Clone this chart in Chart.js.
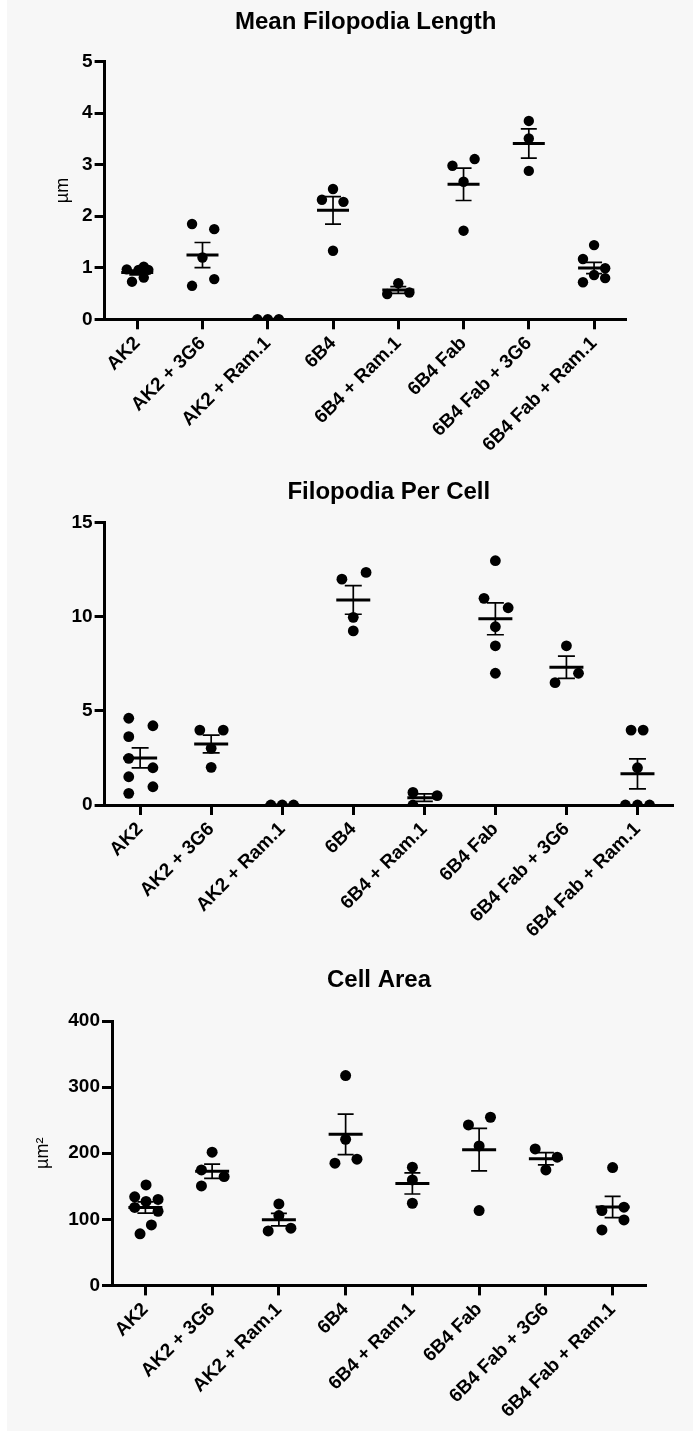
<!DOCTYPE html>
<html><head><meta charset="utf-8">
<script src="https://cdn.jsdelivr.net/npm/chart.js@4.4.1/dist/chart.umd.min.js"></script>
<style>
html,body{margin:0;padding:0;background:#f7f7f7;}
body{width:693px;height:1431px;position:relative;overflow:hidden;}
#strip{position:absolute;left:0;top:0;width:7px;height:1431px;background:#ffffff;}
.box{position:absolute;left:0;width:693px;}
canvas{display:block;}
</style></head><body>
<div id="strip"></div>
<div class="box" style="top:0px;height:460px"><canvas id="c1" width="693" height="460"></canvas></div>
<div class="box" style="top:460px;height:480px"><canvas id="c2" width="693" height="480"></canvas></div>
<div class="box" style="top:940px;height:491px"><canvas id="c3" width="693" height="491"></canvas></div>
<script>
const categories = ["AK2","AK2 + 3G6","AK2 + Ram.1","6B4","6B4 + Ram.1","6B4 Fab","6B4 Fab + 3G6","6B4 Fab + Ram.1"];

// Mean Filopodia Length (µm)
const lengthValues = [
  [0.97,0.73,0.96,1.02,0.81,0.96],
  [1.85,1.75,1.20,0.65,0.78],
  [0,0,0],
  [2.32,2.28,2.53,1.33],
  [0.49,0.70,0.52],
  [2.98,3.11,2.67,1.72],
  [3.85,3.51,2.88],
  [1.44,1.17,0.99,0.86,0.72,0.80]
];
const lengthJitter = [
  [-0.16,-0.08,0.02,0.10,0.10,0.17],
  [-0.16,0.18,0,-0.16,0.18],
  [-0.16,0,0.17],
  [-0.17,0.16,0,0],
  [-0.17,0,0.17],
  [-0.17,0.17,0,0],
  [0,0,0],
  [0,-0.17,0.17,0,-0.17,0.17]
];

// Filopodia Per Cell
const perCellValues = [
  [4.61,4.21,3.63,2.48,1.98,1.50,0.97,0.62],
  [3.98,3.98,3.01,2.00],
  [0,0,0],
  [12.00,12.36,9.97,9.25],
  [0.67,0.50,0],
  [12.98,10.98,10.48,9.47,8.46,7.00],
  [8.46,7.00,6.50],
  [3.98,3.98,1.98,0,0,0]
];
const perCellJitter = [
  [-0.16,0.18,-0.16,-0.16,0.18,-0.16,0.18,-0.16],
  [-0.16,0.17,0,0],
  [-0.16,0,0.16],
  [-0.16,0.18,0,0],
  [-0.16,0.18,-0.16],
  [0,-0.16,0.18,0,0,0],
  [0,0.17,-0.16],
  [-0.09,0.08,0,-0.17,0,0.17]
];

// Cell Area (µm²)
const areaValues = [
  [152,134,130,127,118,112,91.5,78],
  [201.5,174.7,164.6,150.5],
  [123.3,105.6,82.4,86.5],
  [317.4,221,184.9,190.9],
  [178.8,159.6,124.3],
  [242.8,254.4,211,113.2],
  [206.5,193.9,174.7],
  [178.2,113.2,118.3,99.1,84]
];
const areaJitter = [
  [0.01,-0.16,0.19,0.01,-0.16,0.19,0.09,-0.08],
  [0,-0.16,0.18,-0.16],
  [0,0,-0.16,0.18],
  [0,0,-0.16,0.17],
  [0,0,0],
  [-0.16,0.17,0,0],
  [-0.16,0.17,0],
  [0,-0.16,0.17,0.17,-0.16]
];

const FONT = "'Liberation Sans', Arial, Helvetica, sans-serif";
Chart.defaults.font.family = FONT;
Chart.defaults.color = '#000';

function stats(v){
  const n = v.length;
  const m = v.reduce((a,b)=>a+b,0)/n;
  const sd = n>1 ? Math.sqrt(v.reduce((a,b)=>a+(b-m)*(b-m),0)/(n-1)) : 0;
  return {m:m, sem: sd/Math.sqrt(n)};
}

function build(id, o){
  const pts = [];
  o.values.forEach((g,i)=>g.forEach((v,j)=>pts.push({x:i+o.jitter[i][j], y:v})));
  const st = o.values.map(stats);
  const datasets = [];
  datasets.push({data:pts, pointRadius:o.r, pointBackgroundColor:'#000', pointBorderColor:'#000', pointBorderWidth:0, showLine:false, order:0});
  datasets.push({data:st.map((s,i)=>({x:i,y:s.m})), pointStyle:'line', pointRadius:o.meanHalf, pointBorderColor:'#000', pointBorderWidth:3, showLine:false, order:1});
  const caps = [];
  st.forEach((s,i)=>{ if(s.sem>0){ caps.push({x:i,y:s.m-s.sem}); caps.push({x:i,y:s.m+s.sem}); } });
  datasets.push({data:caps, pointStyle:'line', pointRadius:o.capHalf, pointBorderColor:'#000', pointBorderWidth:1.7, showLine:false, order:2});
  st.forEach((s,i)=>{ if(s.sem>0) datasets.push({data:[{x:i,y:s.m-s.sem},{x:i,y:s.m+s.sem}], showLine:true, borderColor:'#000', borderWidth:1.7, pointRadius:0, order:3}); });

  const tickFont = {family:FONT, size:19, weight:'bold'};
  new Chart(document.getElementById(id), {
    type:'scatter',
    data:{datasets:datasets},
    options:{
      responsive:false, animation:false, events:[],
      layout:{padding:{left:0,right:o.padRight,top:0,bottom:0}},
      plugins:{
        legend:{display:false},
        tooltip:{enabled:false},
        title:{display:true, fullSize:false, text:o.title, color:'#000',
          font:{family:FONT,size:24,weight:'bold'},
          padding:{top:o.titleTop,bottom:o.titleBottom}}
      },
      scales:{
        x:{type:'linear', min:-0.5, max:7.5,
          afterBuildTicks:(s)=>{ s.ticks = categories.map((c,i)=>({value:i})); },
          afterFit:(s)=>{s.height=o.xH;},
          border:{display:true,color:'#000',width:3},
          grid:{display:true, drawOnChartArea:false, drawTicks:true, tickLength:10, tickWidth:3, tickColor:'#000', color:'#000'},
          ticks:{autoSkip:false, maxRotation:45, minRotation:45, padding:3, color:'#000', font:tickFont,
            callback:(v)=>categories[Math.round(v)]}
        },
        y:{min:0, max:o.yMax,
          afterFit:(s)=>{s.width=o.yW;},
          border:{display:true,color:'#000',width:3},
          grid:{display:true, drawOnChartArea:false, drawTicks:true, tickLength:10, tickWidth:3, tickColor:'#000', color:'#000'},
          ticks:{stepSize:o.yStep, padding:2, color:'#000', font:tickFont},
          title:{display:!!o.yTitle, text:o.yTitle||'', color:'#000', font:{family:FONT,size:18,weight:'normal'}, padding:{top:o.yTitleTop||0,bottom:0}}
        }
      }
    }
  });
}

build('c1', {values:lengthValues, jitter:lengthJitter, title:'Mean Filopodia Length', yTitle:'\u00b5m', yTitleTop:52,
  yMax:5, yStep:1, r:5.2, meanHalf:16, capHalf:8,
  yW:104.6, padRight:66.3, xH:140.7, titleTop:7.6, titleBottom:25.3});
build('c2', {values:perCellValues, jitter:perCellJitter, title:'Filopodia Per Cell', yTitle:'',
  yMax:15, yStep:5, r:5.4, meanHalf:17, capHalf:8.5,
  yW:104.6, padRight:17.4, xH:135, titleTop:17.6, titleBottom:16.3});
build('c3', {values:areaValues, jitter:areaJitter, title:'Cell Area', yTitle:'\u00b5m\u00b2', yTitleTop:32,
  yMax:400, yStep:100, r:5.5, meanHalf:17, capHalf:8,
  yW:112, padRight:47, xH:145.6, titleTop:25.6, titleBottom:26.6});
</script>
</body></html>
